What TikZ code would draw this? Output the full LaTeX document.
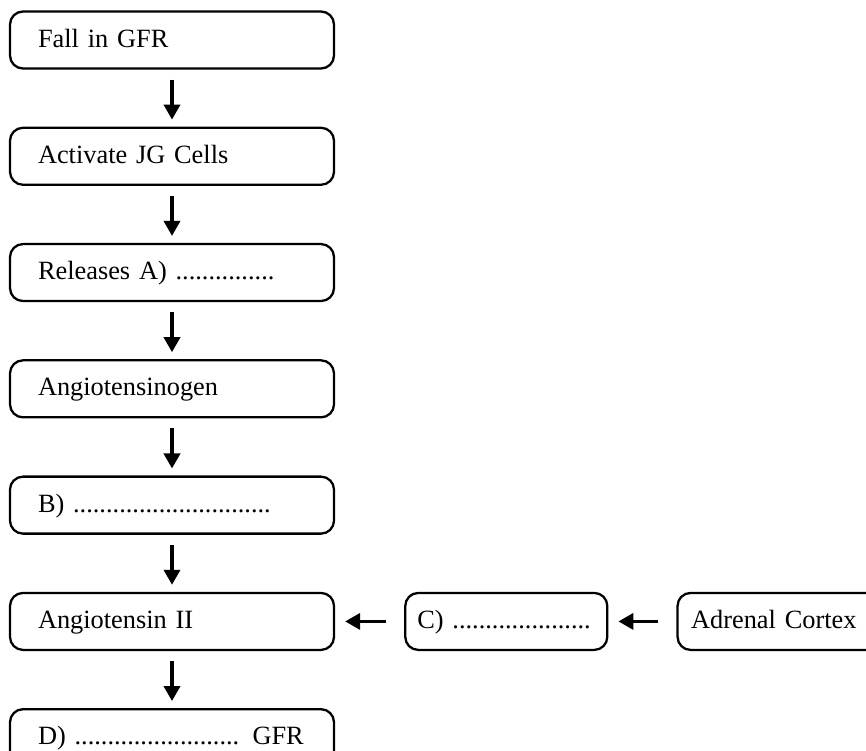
\documentclass[tikz,border=0pt]{standalone}
\usepackage{fontspec}
\setmainfont{Liberation Serif}
\usepackage{tikz}
\usetikzlibrary{arrows.meta, positioning}
\tikzset{
  flowbox/.style={rectangle, draw=black, rounded corners=0.26cm,
    line width=1.3pt, minimum height=1.14cm, text width=5.36cm,
    text height=2.1ex, text depth=0.35ex,
    inner xsep=0.56cm, align=left, font=\fontsize{15}{18}\selectfont},
  sidebox/.style={flowbox, text width=3.56cm, inner xsep=0.24cm},
  downarrow/.style={-{Triangle[length=0.3cm, width=0.32cm]},
    line width=2pt, shorten <=0.2cm, shorten >=0.14cm},
  leftarrow/.style={downarrow, shorten <=0.36cm, shorten >=0.2cm}
}

\begin{document}
\begin{tikzpicture}
  \clip (0,0) rectangle (17.32,-15.02);
  % main chain
  \node[flowbox] (fall) at (3.44,-0.8) {Fall in GFR};
  \node[flowbox, below=1.14cm of fall] (activate) {Activate JG Cells};
  \node[flowbox, below=1.14cm of activate] (releases) {Releases A) ...............};
  \node[flowbox, below=1.14cm of releases] (angiogen) {Angiotensinogen};
  \node[flowbox, below=1.14cm of angiogen] (blankb) {B) ..............................};
  \node[flowbox, below=1.14cm of blankb] (angio2) {Angiotensin II};
  \node[flowbox, below=1.14cm of angio2] (blankd) {D) ......................... GFR};
  % side branch
  \node[sidebox, right=1.38cm of angio2] (blankc) {C) .....................};
  \node[sidebox, text width=3.5cm, inner xsep=0.27cm, right=1.36cm of blankc] (adrenal) {Adrenal Cortex};
  % arrows
  \draw[downarrow] (fall) -- (activate);
  \draw[downarrow] (activate) -- (releases);
  \draw[downarrow] (releases) -- (angiogen);
  \draw[downarrow] (angiogen) -- (blankb);
  \draw[downarrow] (blankb) -- (angio2);
  \draw[downarrow] (angio2) -- (blankd);
  \draw[leftarrow] (blankc) -- (angio2);
  \draw[leftarrow] (adrenal) -- (blankc);
\end{tikzpicture}
\end{document}
